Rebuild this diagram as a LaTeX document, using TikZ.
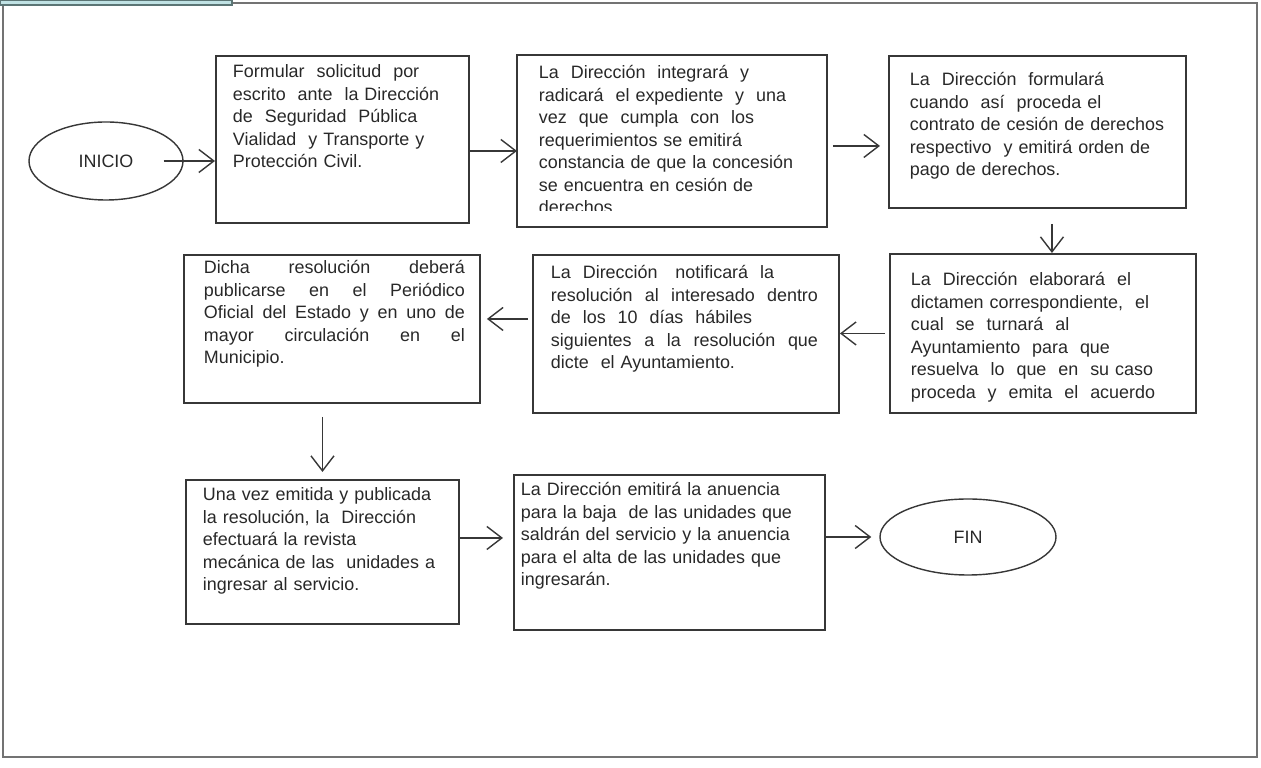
\documentclass[tikz,border=0pt]{standalone}
\usepackage{fontspec}
\setmainfont{Liberation Sans}
\usetikzlibrary{
  arrows.meta,
  positioning,
  shapes.geometric
}
\definecolor{ink}{RGB}{40,40,40}
\definecolor{boxline}{RGB}{55,55,55}
\definecolor{frameline}{RGB}{115,115,115}
\definecolor{tabfill}{RGB}{192,226,228}
\newcommand{\steptext}{\fontsize{10.2}{12.8}\selectfont}
\newcommand{\pad}[2]{\leftskip=#1\rightskip=#2 plus 1fil\relax}
\tikzset{
  stepbox/.style={draw=boxline, line width=1.1pt, anchor=north west, inner sep=0pt,
    align=left, font=\steptext, text=ink},
  endcap/.style={draw=boxline, line width=0.8pt, ellipse, inner sep=0pt,
    font=\steptext, text=ink},
  flow/.style={draw=boxline, line width=0.8pt, -{Straight Barb[length=3mm,width=4.6mm]}}
}

\begin{document}
\begin{tikzpicture}[x=0.2mm, y=-0.2mm]
  \useasboundingbox (0,0) rectangle (1261,768);
  \draw[frameline, line width=0.8pt] (3,0) -- (3,757) -- (1257,757) -- (1257,3) -- (232,3);
  \draw[draw=frameline!80!teal, fill=tabfill, line width=0.6pt] (0,0) rectangle (232,5);

  \node[endcap, minimum width=30.8mm, minimum height=15.6mm] (inicio) at (106,161) {INICIO};
  \node[stepbox, text width=50.6mm, text height=4.4mm, text depth=29mm] (solicitud) at (215,55)
    {\pad{3.4mm}{0mm}Formular~ solicitud~ por\\escrito~ ante~ la Dirección\\de~ Seguridad~ Pública\\Vialidad~ y Transporte y\\Protección Civil.\par};
  \begin{scope}
    \clip (505,40) rectangle (840,211);
    \node[stepbox, draw=none, text width=61.6mm, text height=4.6mm, text depth=29.4mm] (integra) at (517,55)
      {\pad{4.2mm}{0mm}La~ Dirección~ integrará~ y\\radicará~ el expediente~ y~ una\\vez~ que~ cumpla~ con~ los\\requerimientos se emitirá\\constancia de que la concesión\\se encuentra en cesión de\\derechos\par};
  \end{scope}
  \draw[boxline, line width=1.1pt] (integra.north west) rectangle (integra.south east);
  \node[stepbox, text width=59.4mm, text height=6mm, text depth=24.4mm] (contrato) at (888,55)
    {\pad{4.2mm}{0mm}La~ Dirección~ formulará\\cuando~ así~ proceda el\\contrato de cesión de derechos\\respectivo~ y emitirá orden de\\pago de derechos.\par};
  \node[stepbox, text width=61.2mm, text height=6.4mm, text depth=25.4mm] (dictamen) at (889,253)
    {\pad{4.2mm}{0mm}La~ Dirección~ elaborará~ el\\dictamen correspondiente,~ el\\cual~ se~ turnará~ al\\Ayuntamiento~ para~ que\\resuelva~ lo~ que~ en~ su caso\\proceda~ y~ emita~ el~ acuerdo\par};
  \node[stepbox, text width=61.2mm, text height=4.8mm, text depth=26.8mm] (notifica) at (532,254)
    {\pad{3.6mm}{4.2mm}La~ Dirección~~ notificará~ la\\resolución\hfill al\hfill interesado\hfill dentro\\de~ los~ 10~ días~ hábiles\\siguientes\hfill a\hfill la\hfill resolución\hfill que\\dicte~ el Ayuntamiento.\par};
  \node[stepbox, text width=59.2mm, text height=3.8mm, text depth=25.8mm] (publica) at (183,254)
    {\pad{4mm}{3mm}Dicha\hfill resolución\hfill deberá\\publicarse\hfill en\hfill el\hfill Periódico\\Oficial\hfill del\hfill Estado\hfill y\hfill en\hfill uno\hfill de\\mayor\hfill circulación\hfill en\hfill el\\Municipio.\par};
  \node[stepbox, text width=54.6mm, text height=4.2mm, text depth=24.6mm] (revista) at (185,479)
    {\pad{3.4mm}{0mm}Una vez emitida y publicada\\la resolución, la~ Dirección\\efectuará la revista\\mecánica de las~ unidades a\\ingresar al servicio.\par};
  \node[stepbox, text width=62.2mm, text height=4.2mm, text depth=26.8mm] (anuencia) at (513,474)
    {\pad{1.4mm}{0mm}La Dirección emitirá la anuencia\\para la baja~ de las unidades que\\saldrán del servicio y la anuencia\\para el alta de las unidades que\\ingresarán.\par};
  \node[endcap, minimum width=35.2mm, minimum height=15.2mm] (fin) at (968,537) {FIN};

  \draw[flow] ([xshift=-4mm]inicio.east) -- (inicio.east -| solicitud.west);
  \draw[flow] ([yshift=-2.3mm]solicitud.east) -- ([yshift=-2.3mm]solicitud.east -| integra.west);
  \draw[flow] ([xshift=1.2mm,yshift=-1mm]integra.east) -- ([xshift=-1.6mm,yshift=-1mm]integra.east -| contrato.west);
  \draw[flow] ([xshift=2.9mm,yshift=-3mm]contrato.south) -- ([xshift=2.9mm]contrato.south |- dictamen.north);
  \draw[flow] ([xshift=-0.8mm]dictamen.west) -- (dictamen.west -| notifica.east);
  \draw[flow] ([xshift=-0.8mm,yshift=3mm]notifica.west) -- ([xshift=1.2mm,yshift=3mm]notifica.west -| publica.east);
  \draw[flow] ([yshift=-2.6mm]revista.north |- publica.south) -- ([yshift=1.4mm]revista.north);
  \draw[flow] ([yshift=2.8mm]revista.east) -- ([xshift=-2mm,yshift=2.8mm]revista.east -| anuencia.west);
  \draw[flow] (anuencia.east |- fin.west) -- ([xshift=-1.6mm]fin.west);
\end{tikzpicture}
\end{document}
